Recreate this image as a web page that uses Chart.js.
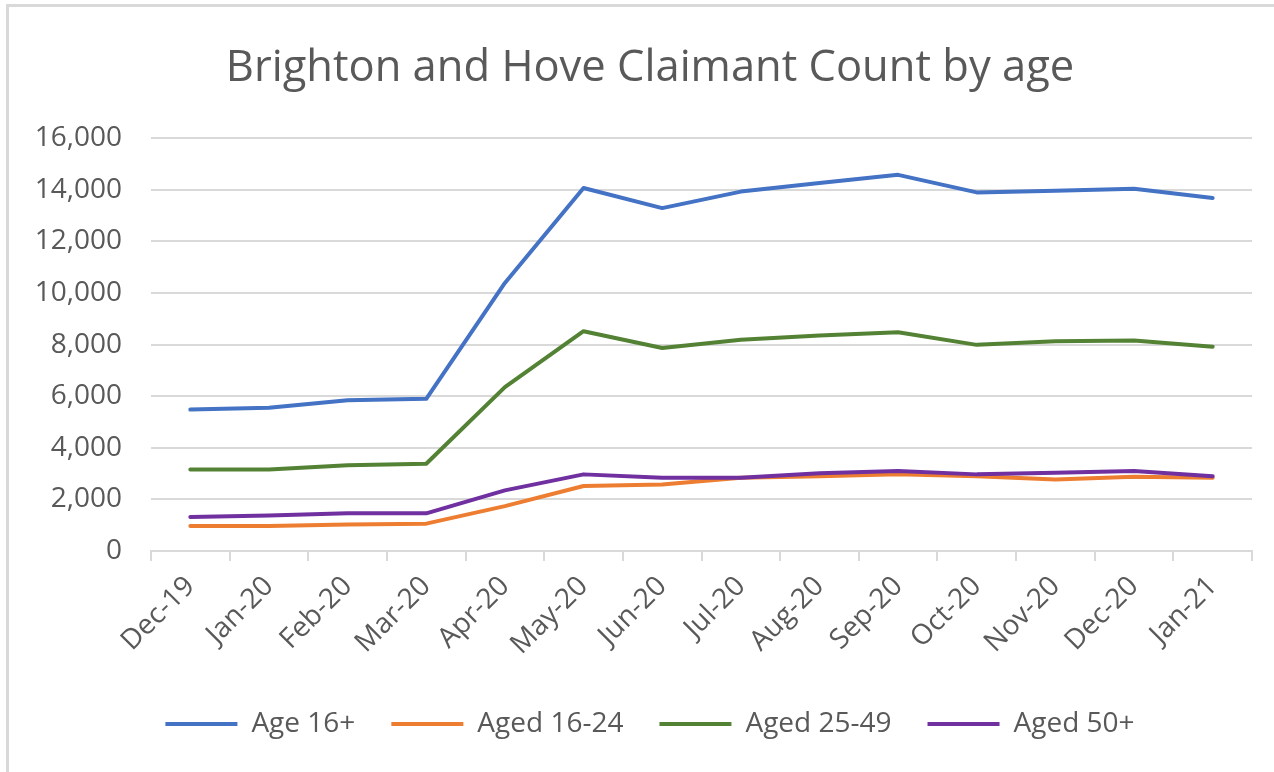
<!DOCTYPE html>
<html>
<head>
<meta charset="utf-8">
<script src="https://cdn.jsdelivr.net/npm/chart.js@4"></script>
<style>
  html, body { margin: 0; padding: 0; background: #ffffff; }
  #wrap { position: relative; width: 1274px; height: 772px; overflow: hidden; }
  #frame { position: absolute; left: 6px; top: 4px; width: 1400px; height: 900px;
           border-left: 3px solid #d9d9d9; border-top: 3px solid #d9d9d9; box-sizing: border-box; }
  #c { position: absolute; left: 0; top: 0; }
</style>
</head>
<body>
<div id="wrap">
  <div id="frame"></div>
  <canvas id="c" width="1274" height="772"></canvas>
</div>
<script>
const categories = ['Dec-19','Jan-20','Feb-20','Mar-20','Apr-20','May-20','Jun-20','Jul-20','Aug-20','Sep-20','Oct-20','Nov-20','Dec-20','Jan-21'];
const age16plus  = [5480, 5550, 5840, 5900, 10390, 14070, 13290, 13930, 14260, 14580, 13900, 13960, 14040, 13680];
const aged16to24 = [970, 970, 1030, 1060, 1740, 2520, 2580, 2840, 2900, 2970, 2900, 2770, 2880, 2840];
const aged25to49 = [3160, 3160, 3320, 3380, 6350, 8520, 7870, 8190, 8350, 8480, 7990, 8130, 8160, 7920];
const aged50plus = [1320, 1380, 1460, 1460, 2350, 2970, 2840, 2840, 3010, 3100, 2970, 3030, 3100, 2900];
const seriesNames = ['Age 16+', 'Aged 16-24', 'Aged 25-49', 'Aged 50+'];
const yTicks = [0, 2000, 4000, 6000, 8000, 10000, 12000, 14000, 16000];

const colors = ['#4472C4', '#ED7D31', '#548235', '#7030A0'];
const seriesData = [age16plus, aged16to24, aged25to49, aged50plus];
const FONT = '"Open Sans", "Noto Sans", sans-serif';
const TXT = '#595959';

const datasets = seriesData.map((d, i) => ({
  label: seriesNames[i],
  data: d,
  borderColor: colors[i],
  backgroundColor: colors[i],
  borderWidth: 4,
  pointRadius: 0,
  pointHoverRadius: 0,
  tension: 0,
  borderCapStyle: 'round',
  borderJoinStyle: 'round',
  order: seriesData.length - 1 - i
}));

// The original centres title and legend on the whole chart frame, a bit right of the plot area's centre.
const shiftBlocks = {
  id: 'shiftBlocks',
  afterLayout(chart) {
    [chart.titleBlock, chart.legend].forEach(b => { if (b) { b.left += 19; b.right += 19; } });
  }
};

new Chart(document.getElementById('c'), {
  type: 'line',
  data: { labels: categories, datasets },
  plugins: [shiftBlocks],
  options: {
    responsive: false,
    animation: false,
    devicePixelRatio: 1,
    layout: { padding: { left: 10, right: 22, top: 0, bottom: 24 } },
    plugins: {
      title: {
        display: true,
        text: 'Brighton and Hove Claimant Count by age',
        color: TXT,
        font: { family: FONT, size: 43.5, weight: 'normal' },
        padding: { top: 43, bottom: 43 }
      },
      legend: {
        position: 'bottom',
        labels: {
          color: TXT,
          font: { family: FONT, size: 28 },
          usePointStyle: true,
          pointStyle: 'line',
          pointStyleWidth: 72,
          boxHeight: 4,
          padding: 36,
          sort: (a, b) => a.datasetIndex - b.datasetIndex
        }
      },
      tooltip: { enabled: false }
    },
    scales: {
      x: {
        offset: true,
        grid: { display: true, drawOnChartArea: false, drawTicks: true, tickLength: 10, color: '#d9d9d9', lineWidth: 2, offset: true },
        border: { display: true, color: '#d9d9d9', width: 2 },
        ticks: { color: TXT, font: { family: FONT, size: 28 }, minRotation: 45, maxRotation: 45, padding: 9, autoSkip: false },
        afterFit: s => { s.height = 123; }
      },
      y: {
        min: 0, max: 16000,
        afterBuildTicks: s => { s.ticks = yTicks.map(v => ({ value: v })); },
        grid: { color: '#d9d9d9', lineWidth: 2, drawTicks: false },
        border: { display: false },
        ticks: { color: TXT, font: { family: FONT, size: 28 }, padding: 29,
                 callback: v => Number(v).toLocaleString('en-US') },
        afterFit: s => { s.width = 141; }
      }
    }
  }
});
</script>
</body>
</html>
